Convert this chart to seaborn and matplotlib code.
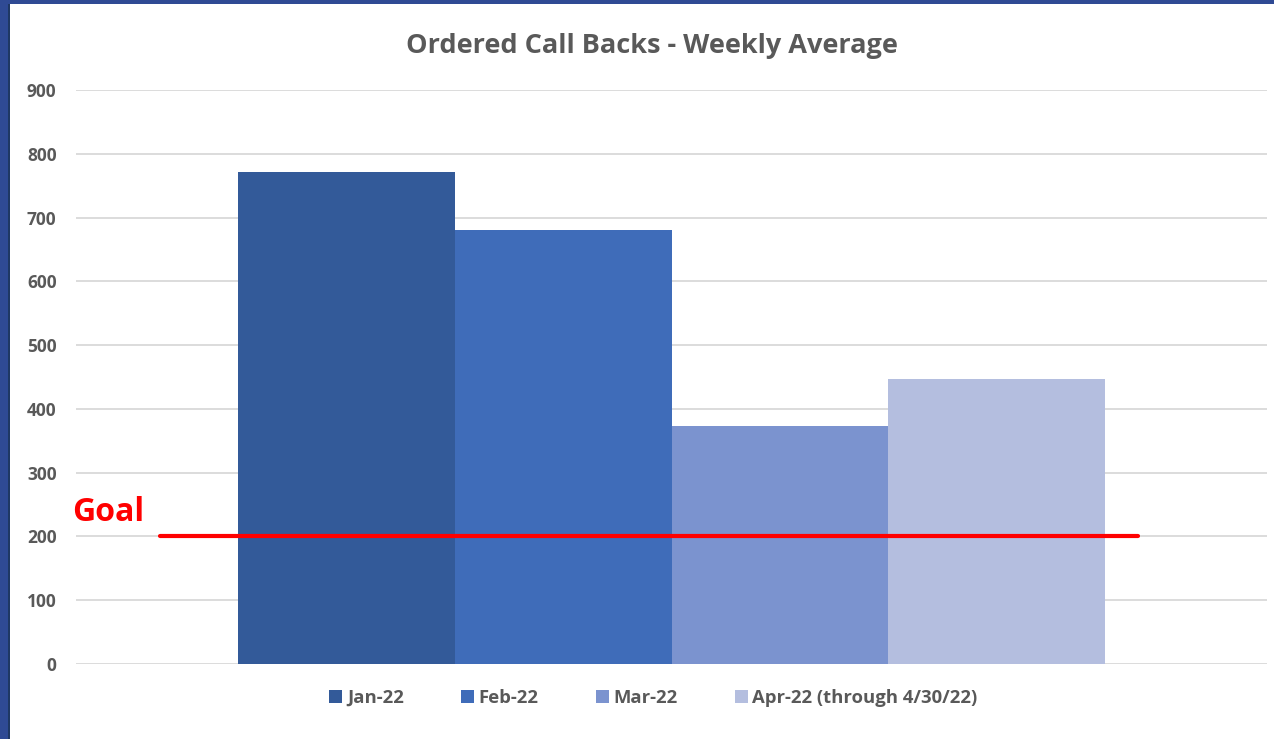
import pandas as pd
import numpy as np
import matplotlib.pyplot as plt
import seaborn as sns
from matplotlib.patches import Rectangle, Patch

# data
months = ["Jan-22", "Feb-22", "Mar-22", "Apr-22 (through 4/30/22)"]
weekly_avg = [771, 680, 373, 447]
goal = 200
colors = ["#335A99", "#3F6CB9", "#7B93CF", "#B4BEDF"]

df = pd.DataFrame({"group": [""] * len(months), "month": months, "value": weekly_avg})

sns.set_style("white")
plt.rcParams["font.family"] = ["Open Sans", "DejaVu Sans"]

fig = plt.figure(figsize=(12.74, 7.39), dpi=100)
ax = fig.add_axes([0.0597, 0.1015, 0.9348, 0.7767])

sns.barplot(data=df, x="group", y="value", hue="month", palette=colors,
            width=0.728, dodge=True, gap=0, saturation=1, legend=False,
            edgecolor="none", linewidth=0, ax=ax, zorder=2)

ax.set_xlim(-0.5, 0.5)
ax.set_ylim(0, 900)
ax.set_yticks(np.arange(0, 901, 100))
ax.yaxis.grid(True, color="#D9D9D9", linewidth=1.3, zorder=0)
ax.set_axisbelow(True)
for s in ax.spines.values():
    s.set_visible(False)
ax.set_xlabel("")
ax.set_ylabel("")
ax.set_xticks([])
ax.tick_params(axis="y", length=0, pad=14, labelsize=12.5, labelcolor="#595959")
for lbl in ax.get_yticklabels():
    lbl.set_fontweight("bold")

# goal line
ax.plot([-0.4295, 0.3917], [goal, goal], color="#FF0000", linewidth=3,
        solid_capstyle="round", zorder=3, clip_on=False)
fig.text(0.0565, 1 - 521 / 739, "Goal", color="#FF0000", fontsize=23,
         fontweight="bold", ha="left", va="baseline")

# title
fig.text(0.5115, 1 - 53 / 739, "Ordered Call Backs - Weekly Average",
         fontsize=19.5, fontweight="bold", color="#595959",
         ha="center", va="baseline")

# legend
handles = [Patch(facecolor=c, edgecolor="none") for c in colors]
leg = fig.legend(handles, months, loc="center", bbox_to_anchor=(0.513, 1 - 698 / 739),
                 ncol=4, frameon=False, handlelength=0.7, handleheight=0.7,
                 handletextpad=0.25, columnspacing=3.1,
                 prop={"weight": "bold", "size": 13.3})
for t in leg.get_texts():
    t.set_color("#595959")

# slide frame: blue strip on the left and top
fig.patches.append(Rectangle((0, 0), 8 / 1274, 1, transform=fig.transFigure,
                             facecolor="#2F4A94", edgecolor="none", zorder=5))
fig.patches.append(Rectangle((8 / 1274, 0), 2 / 1274, 1, transform=fig.transFigure,
                             facecolor="#1F3864", edgecolor="none", zorder=5))
fig.patches.append(Rectangle((0, 1 - 4 / 739), 1, 4 / 739, transform=fig.transFigure,
                             facecolor="#2F4A94", edgecolor="none", zorder=5))

fig.savefig("out.png", dpi=100, facecolor="white")
